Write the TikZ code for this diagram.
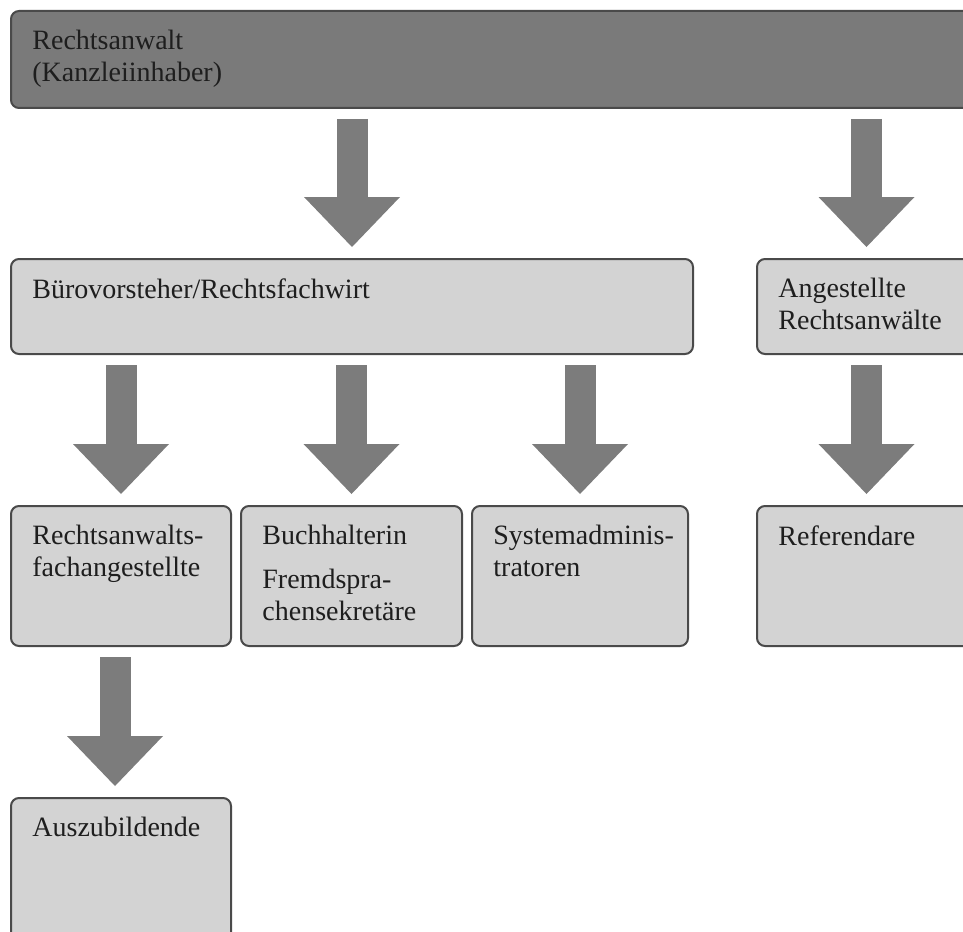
\documentclass[tikz,border=0pt]{standalone}
\usepackage{fontspec}
\setmainfont{Liberation Serif}
\usetikzlibrary{arrows.meta}
\definecolor{bargray}{HTML}{7A7A7A}
\definecolor{boxgray}{HTML}{D3D3D3}
\definecolor{edgegray}{HTML}{4A4A4A}
\definecolor{arrowgray}{HTML}{7C7C7C}
\definecolor{textgray}{HTML}{1E1E1E}
\begin{document}
\begin{tikzpicture}[x=0.5pt,y=-0.5pt,
    font=\fontsize{14}{16}\selectfont,
    box/.style={draw=edgegray,line width=1pt,fill=boxgray,rounded corners=4pt,anchor=north west,inner sep=0pt},
    lbl/.style={anchor=north west,inner sep=0pt,align=left,text=textgray},
    fatarrow/.style={draw=arrowgray,line width=15.5pt,-{Triangle[width=48pt,length=25pt,line width=0pt]},shorten <=5pt,shorten >=5.5pt}]
    \clip (0,0) rectangle (963,931);
    \node[box,fill=bargray,minimum width=482.5pt,minimum height=48.5pt] (chef) at (10,10) {};
    \node[box,minimum width=341pt,minimum height=47.5pt] (buro) at (10,258) {};
    \node[box,minimum width=109.5pt,minimum height=47.5pt] (ang) at (756,258) {};
    \node[box,minimum width=110pt,minimum height=70pt] (rfa) at (10,505) {};
    \node[box,minimum width=110.5pt,minimum height=70pt] (buch) at (240,505) {};
    \node[box,minimum width=108pt,minimum height=70pt] (sys) at (471,505) {};
    \node[box,minimum width=109.5pt,minimum height=70pt] (ref) at (756,505) {};
    \node[box,minimum width=110pt,minimum height=80pt] (azubi) at (10,797) {};
    \node[lbl] (chef-t) at ([shift={(11pt,-10pt)}]chef.north west) {Rechtsanwalt\\(Kanzleiinhaber)};
    \node[lbl] (buro-t) at ([shift={(11pt,-10pt)}]buro.north west) {Bürovorsteher/Rechtsfachwirt};
    \node[lbl] (ang-t) at ([shift={(11pt,-10pt)}]ang.north west) {Angestellte\\Rechtsanwälte};
    \node[lbl] (rfa-t) at ([shift={(11pt,-10pt)}]rfa.north west) {Rechtsanwalts-\\fachangestellte};
    \node[lbl] (buch-t) at ([shift={(11pt,-10pt)}]buch.north west) {Buchhalterin\\[6pt]Fremdspra-\\chensekretäre};
    \node[lbl] (sys-t) at ([shift={(11pt,-10pt)}]sys.north west) {Systemadminis-\\tratoren};
    \node[lbl] (ref-t) at ([shift={(11pt,-10pt)}]ref.north west) {Referendare};
    \node[lbl] (azubi-t) at ([shift={(11pt,-10pt)}]azubi.north west) {Auszubildende};
    \draw[fatarrow] (buro.north |- chef.south) -- (buro.north);
    \draw[fatarrow] (ang.north |- chef.south) -- (ang.north);
    \draw[fatarrow] (rfa.north |- buro.south) -- (rfa.north);
    \draw[fatarrow] (buch.north |- buro.south) -- (buch.north);
    \draw[fatarrow] (sys.north |- buro.south) -- (sys.north);
    \draw[fatarrow] (ref.north |- ang.south) -- (ref.north);
    \draw[fatarrow] ([xshift=-3pt]rfa.south) -- ([xshift=-3pt]azubi.north);
\end{tikzpicture}
\end{document}
